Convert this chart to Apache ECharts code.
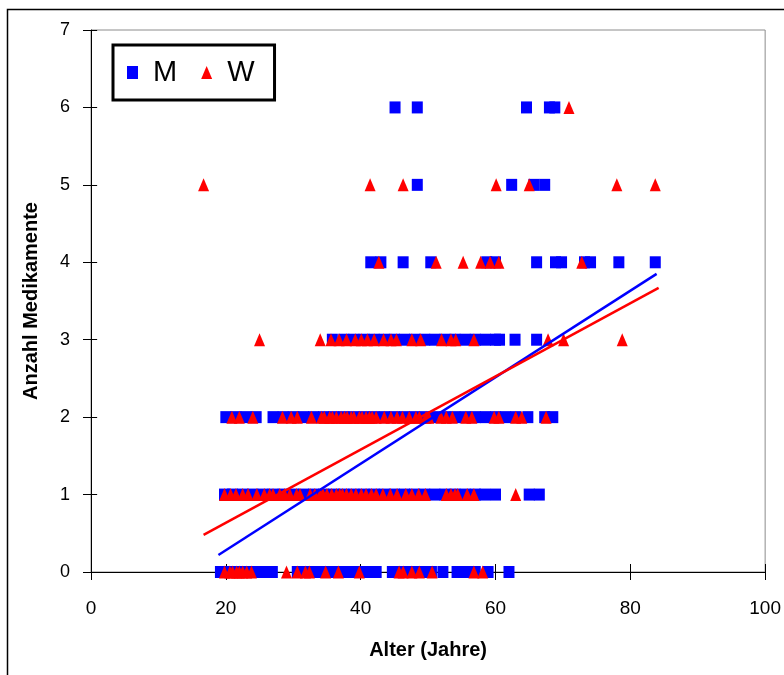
<!DOCTYPE html>
<html>
<head>
<meta charset="utf-8">
<script src="https://cdn.jsdelivr.net/npm/echarts@6/dist/echarts.min.js"></script>
<style>html,body{margin:0;padding:0;background:#fff}#c{width:784px;height:675px}</style>
</head>
<body>
<div id="c"></div>
<script>
// Ages (Jahre) per number of medications, M = men (blue squares), W = women (red triangles)
const M0 = [19.2, 20.5, 22, 23.5, 25, 26.2, 26.9, 30.6, 32, 33.5, 35, 36.5, 38, 39.5, 41, 42.3, 44.7, 46, 47.5, 49, 50.5, 52.2, 54.3, 55.5, 57, 58.9, 62];
const M1 = [19.8, 21, 22.5, 24, 25.5, 27, 28.5, 30, 31.5, 33, 34.5, 36, 37.5, 39, 40.5, 42, 43.5, 45, 46.5, 48, 49.5, 51, 52.5, 54, 55.5, 57, 58.4, 60, 65, 66.5];
const M2 = [20, 21.5, 23, 24.5, 27, 28.5, 30, 31.5, 33, 34.5, 36, 37.5, 39, 40.5, 42, 43.5, 45, 46.5, 48, 49.5, 51, 52.5, 54, 55.5, 57, 58.5, 60, 61.5, 63, 64.8, 67.3, 68.5];
const M3 = [35.8, 37.5, 39, 40.5, 42, 43.5, 45, 46.5, 48, 49.5, 51, 52.5, 54, 55.5, 57, 58.5, 60, 60.6, 62.9, 66.1];
const M4 = [41.5, 43, 46.3, 50.4, 58.7, 60, 66.1, 68.9, 69.8, 73.2, 74.1, 78.3, 83.7];
const M5 = [48.4, 62.4, 65.7, 67.3];
const M6 = [45.1, 48.4, 64.6, 68, 68.8];

const W0 = [19.8, 20.6, 21, 21.6, 22, 22.5, 23.1, 23.8, 29, 30.6, 31.8, 32.4, 34.8, 36.7, 39.8, 45.7, 46.3, 47.6, 48.7, 50.6, 56.8, 58.1];
const W1 = [19.8, 20.7, 21.5, 22.5, 23.3, 24.6, 25.7, 26.5, 27, 28, 28.7, 29.5, 30.5, 31, 32.5, 33.2, 34, 34.4, 35, 35.7, 36.4, 36.9, 37.3, 37.9, 38.6, 39.3, 40.1, 40.8, 41.6, 42.3, 43.3, 44.4, 45.4, 46.7, 47.6, 48.6, 49.6, 52.7, 53.4, 54, 54.4, 55.8, 56.8, 63];
const W2 = [20.9, 22, 24, 28.4, 29.7, 30.6, 32.7, 34.2, 34.6, 35.4, 35.8, 36.4, 37.1, 37.6, 38, 38.6, 39, 39.8, 40.2, 40.8, 41.3, 41.7, 42.3, 43.5, 44.5, 45.4, 46.2, 47.2, 48.2, 48.7, 49.7, 50.1, 51.9, 52.7, 53.6, 55.6, 56.5, 59.8, 60.5, 63, 63.9, 67.5];
const W3 = [25, 34, 35.6, 36.8, 37.9, 39.2, 40.1, 41, 42, 43.4, 44.5, 45.3, 47.6, 48.9, 52, 53.4, 54.1, 56.8, 67.8, 70.1, 78.8];
const W4 = [42.7, 51.2, 55.2, 57.8, 59.2, 60.5, 72.8];
const W5 = [16.7, 41.4, 46.3, 60.1, 65, 78, 83.7];
const W6 = [70.9];

// Regression lines (endpoints)
const trendM = [[18.9, 0.22], [83.9, 3.85]];
const trendW = [[16.7, 0.48], [84.2, 3.67]];

function pts(levels) {
  const out = [];
  levels.forEach((ages, n) => ages.forEach(a => out.push([a, n])));
  return out;
}
const mData = pts([M0, M1, M2, M3, M4, M5, M6]);
const wData = pts([W0, W1, W2, W3, W4, W5, W6]);

const GRID = {left: 91, right: 17, top: 30, bottom: 103};
const W = 784, H = 675;
const gridW = W - GRID.left - GRID.right;
const gridH = H - GRID.top - GRID.bottom;

const FONT = 'Liberation Sans, Arial, sans-serif';
const chart = echarts.init(document.getElementById('c'), null, {renderer: 'canvas'});
chart.setOption({
  animation: false,
  backgroundColor: '#fff',
  graphic: [{
    type: 'rect', left: 5, top: 7, silent: true,
    shape: {x: 0, y: 0, width: 800, height: 700},
    style: {fill: 'none', stroke: '#000', lineWidth: 1.5}
  }],
  grid: Object.assign({show: true, borderColor: '#8c8c8c', borderWidth: 1, backgroundColor: 'transparent'}, GRID),
  legend: {
    data: [{name: 'M', icon: 'rect'}, {name: 'W', icon: 'triangle'}],
    left: 113, top: 45,
    padding: [13, 20, 13, 14],
    itemGap: 24, itemWidth: 11, itemHeight: 13,
    borderColor: '#000', borderWidth: 3,
    textStyle: {fontFamily: FONT, fontSize: 29, color: '#000', padding: [0, 0, 0, 10]}
  },
  xAxis: [{
    type: 'value', min: 0, max: 100, interval: 20, position: 'bottom',
    name: 'Alter (Jahre)', nameLocation: 'middle', nameGap: 68,
    nameTextStyle: {fontFamily: FONT, fontSize: 20, fontWeight: 'bold', color: '#000'},
    axisLine: {show: true, onZero: false, lineStyle: {color: '#000', width: 1}},
    axisTick: {show: true, inside: false, length: 8, lineStyle: {color: '#000'}},
    axisLabel: {fontFamily: FONT, fontSize: 19, color: '#000', margin: 27},
    splitLine: {show: false}
  }, {
    // companion axis (same scale) placed on the bottom edge, ticks pointing into the plot
    type: 'value', min: 0, max: 100, interval: 20, position: 'top', offset: -gridH,
    axisLine: {show: false, onZero: false},
    axisTick: {show: true, inside: false, length: 8, lineStyle: {color: '#000', width: 1}},
    axisLabel: {show: false}, splitLine: {show: false}
  }],
  yAxis: [{
    type: 'value', min: 0, max: 7, interval: 1, position: 'left',
    name: 'Anzahl Medikamente', nameLocation: 'middle', nameGap: 50,
    nameTextStyle: {fontFamily: FONT, fontSize: 20, fontWeight: 'bold', color: '#000'},
    axisLine: {show: true, onZero: false, lineStyle: {color: '#000', width: 1}},
    axisTick: {show: true, inside: false, length: 8, lineStyle: {color: '#000'}},
    axisLabel: {fontFamily: FONT, fontSize: 18, color: '#000', margin: 21},
    splitLine: {show: false}
  }, {
    // companion axis placed on the left edge, ticks pointing into the plot
    type: 'value', min: 0, max: 7, interval: 1, position: 'right', offset: -gridW,
    axisLine: {show: false, onZero: false},
    axisTick: {show: true, inside: false, length: 8, lineStyle: {color: '#000', width: 1}},
    axisLabel: {show: false}, splitLine: {show: false}
  }],
  series: [{
    name: 'M', type: 'scatter', symbol: 'rect', symbolSize: [11, 12],
    itemStyle: {color: '#0000ff', opacity: 1}, data: mData, z: 2
  }, {
    name: 'W', type: 'scatter', symbol: 'triangle', symbolSize: [11, 13],
    itemStyle: {color: '#ff0000', opacity: 1}, data: wData, z: 3
  }, {
    name: 'Trend M', type: 'line', data: trendM, symbol: 'none', z: 4,
    xAxisIndex: 1, yAxisIndex: 1,
    lineStyle: {color: '#0000ff', width: 2.5}
  }, {
    name: 'Trend W', type: 'line', data: trendW, symbol: 'none', z: 5,
    xAxisIndex: 1, yAxisIndex: 1,
    lineStyle: {color: '#ff0000', width: 2.5}
  }]
});
</script>
</body>
</html>
